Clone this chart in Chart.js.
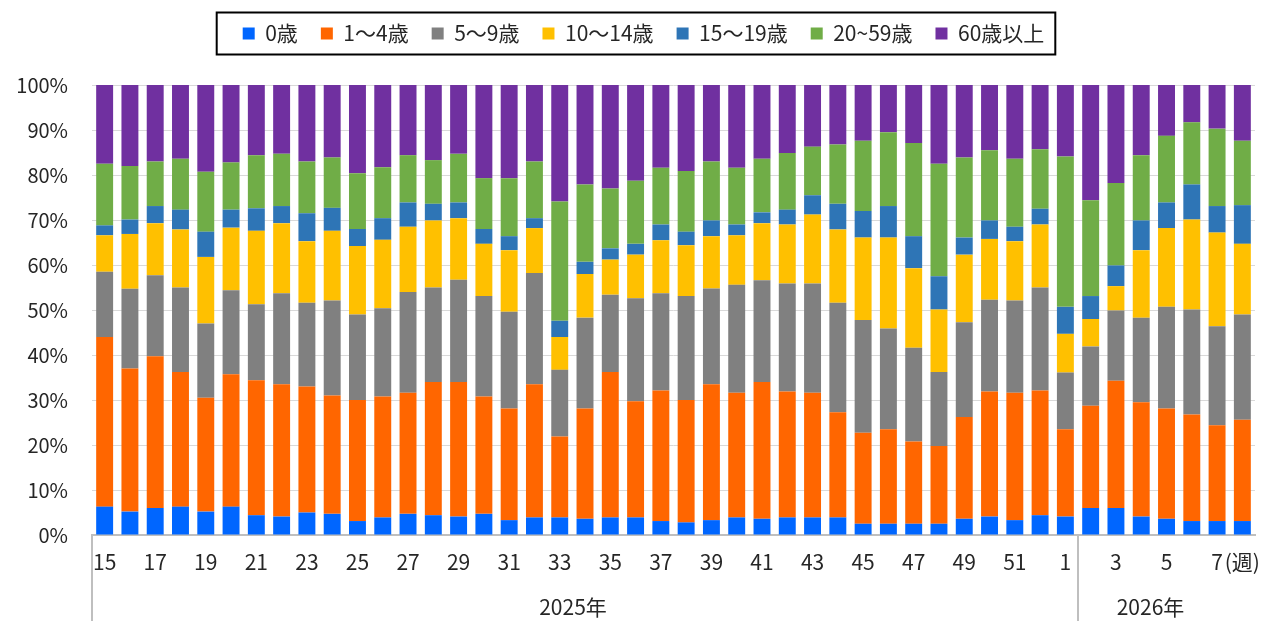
<!DOCTYPE html>
<html lang="ja">

<head>
    <meta charset="UTF-8">
    <script src="https://cdn.jsdelivr.net/npm/chart.js"></script>
    <title>年齢別割合</title>
    <style>
        body { margin: 0; background: #fff; }
        .box { width: 1275px; height: 621px; position: relative; }
    </style>
</head>

<body>
    <div class="box">
        <canvas id="grafico"></canvas>
    </div>

<script>
    // 週 (2025年15週〜2026年8週)
    const semanas = [15, 16, 17, 18, 19, 20, 21, 22, 23, 24, 25, 26, 27, 28, 29, 30, 31, 32, 33, 34,
        35, 36, 37, 38, 39, 40, 41, 42, 43, 44, 45, 46, 47, 48, 49, 50, 51, 52, 1,
        2, 3, 4, 5, 6, 7, 8];
    // 2025年のグループは週1まで（39本）、残りは2026年
    const anos = ['2025年', '2026年'];
    const qtdAno1 = 39;

    const idade0 = [6.3, 5.2, 6.0, 6.3, 5.2, 6.3, 4.4, 4.1, 5.0, 4.7, 3.1, 3.9, 4.7, 4.4, 4.1, 4.7, 3.3, 3.9, 3.9, 3.6,
        3.9, 3.9, 3.1, 2.8, 3.3, 3.9, 3.6, 3.9, 3.9, 3.9, 2.5, 2.5, 2.5, 2.5, 3.6, 4.1, 3.3, 4.4, 4.1,
        6.0, 6.0, 4.1, 3.6, 3.1, 3.1, 3.1];
    const idade1a4 = [37.7, 31.8, 33.7, 29.9, 25.3, 29.4, 30.0, 29.4, 28.0, 26.3, 26.9, 26.9, 26.9, 29.6, 29.9, 26.1, 24.8, 29.6, 18.0, 24.5,
        32.3, 25.8, 29.0, 27.2, 30.2, 27.7, 30.4, 28.0, 27.7, 23.4, 20.2, 21.0, 18.3, 17.3, 22.6, 27.8, 28.3, 27.7, 19.4,
        22.7, 28.3, 25.4, 24.5, 23.7, 21.3, 22.5];
    const idade5a9 = [14.5, 17.7, 18.0, 18.8, 16.5, 18.7, 16.9, 20.2, 18.6, 21.1, 19.0, 19.6, 22.4, 21.0, 22.7, 22.3, 21.5, 24.7, 14.8, 20.2,
        17.2, 22.9, 21.6, 23.1, 21.3, 24.0, 22.6, 24.0, 24.3, 24.3, 25.1, 22.4, 20.8, 16.4, 21.1, 20.4, 20.5, 22.9, 12.6,
        13.2, 15.6, 18.8, 22.6, 23.3, 22.0, 23.4];
    const idade10a14 = [8.1, 12.2, 11.6, 12.9, 14.8, 13.9, 16.3, 15.6, 13.7, 15.5, 15.2, 15.2, 14.5, 14.9, 13.7, 11.6, 13.7, 10.0, 7.3, 9.7,
        7.8, 9.7, 11.8, 11.3, 11.6, 11.0, 12.7, 13.1, 15.3, 16.3, 18.3, 20.2, 17.7, 13.9, 15.0, 13.5, 13.2, 14.0, 8.6,
        6.1, 5.4, 15.0, 17.5, 20.0, 20.8, 15.7];
    const idade15a19 = [2.2, 3.2, 3.8, 4.4, 5.6, 4.0, 5.0, 3.8, 6.2, 5.1, 3.8, 4.8, 5.4, 3.7, 3.5, 3.3, 3.1, 2.2, 3.6, 2.7,
        2.5, 2.4, 3.5, 3.0, 3.5, 2.4, 2.4, 3.3, 4.3, 5.7, 5.9, 7.0, 7.1, 7.4, 3.8, 4.1, 3.2, 3.5, 6.0,
        5.1, 4.6, 6.6, 5.7, 7.8, 5.9, 8.6];
    const idade20a59 = [13.7, 11.9, 9.9, 11.3, 13.3, 10.5, 11.8, 11.6, 11.5, 11.2, 12.4, 11.3, 10.5, 9.7, 10.8, 11.3, 12.9, 12.6, 26.5, 17.2,
        13.3, 14.0, 12.6, 13.5, 13.1, 12.6, 11.9, 12.6, 10.8, 13.2, 15.6, 16.4, 20.7, 25.0, 17.8, 15.6, 15.1, 13.2, 33.4,
        21.3, 18.3, 14.5, 14.8, 13.8, 17.2, 14.3];
    const idade60mais = [17.5, 18.0, 17.0, 16.4, 19.3, 17.2, 15.6, 15.3, 17.0, 16.1, 19.6, 18.3, 15.6, 16.7, 15.3, 20.7, 20.7, 17.0, 25.9, 22.1,
        23.0, 21.3, 18.4, 19.1, 17.0, 18.4, 16.4, 15.1, 13.7, 13.2, 12.4, 10.5, 12.9, 17.5, 16.1, 14.5, 16.4, 14.3, 15.9,
        25.6, 21.8, 15.6, 11.3, 8.3, 9.7, 12.4];

    const rotulos = ['0歳', '1～4歳', '5～9歳', '10～14歳', '15～19歳', '20~59歳', '60歳以上'];
    const cores = ['#0066FF', '#FF6600', '#808080', '#FFC000', '#2E75B6', '#70AD47', '#7030A0'];
    const yTicks = [0, 10, 20, 30, 40, 50, 60, 70, 80, 90, 100];

    const fonte = "'Noto Sans CJK JP', 'Liberation Sans', sans-serif";
    const corTexto = '#262626';
    const deslocLegenda = 16;

    const series = [idade0, idade1a4, idade5a9, idade10a14, idade15a19, idade20a59, idade60mais];
    let datasets = [];
    for (let i = 0; i < series.length; i++) {
        datasets.push({
            label: rotulos[i],
            data: series[i],
            backgroundColor: cores[i],
            borderWidth: 0,
            categoryPercentage: 1,
            barPercentage: 0.67
        });
    }

    // altura fixa da legenda + moldura preta
    const legendaBox = {
        id: 'legendaBox',
        beforeInit(chart) {
            const fitOrig = chart.legend.fit;
            chart.legend.fit = function () {
                fitOrig.call(this);
                this.height = 85;
            };
        },
        afterUpdate(chart) {
            const lg = chart.legend;
            lg.left += deslocLegenda;
            lg.right += deslocLegenda;
            (lg.legendHitBoxes || []).forEach(h => { h.left += deslocLegenda; });
        },
        afterDraw(chart) {
            const hb = chart.legend.legendHitBoxes;
            if (!hb || !hb.length) return;
            const ctx = chart.ctx;
            let esq = hb[0].left, dir = 0;
            hb.forEach(h => { dir = Math.max(dir, h.left + h.width); });
            const cy = hb[0].top + hb[0].height / 2;
            ctx.save();
            ctx.strokeStyle = '#000';
            ctx.lineWidth = 2;
            ctx.strokeRect(esq - 26, cy - 21, (dir - esq) + 37, 42);
            ctx.restore();
        }
    };

    // linhas de grupo e rótulos de ano
    const grupoAnos = {
        id: 'grupoAnos',
        afterDraw(chart) {
            const ctx = chart.ctx;
            const x = chart.scales.x;
            const area = chart.chartArea;
            const sep = (x.getPixelForValue(qtdAno1 - 1) + x.getPixelForValue(qtdAno1)) / 2;
            ctx.save();
            ctx.strokeStyle = '#bfbfbf';
            ctx.lineWidth = 2;
            [area.left, sep].forEach(px => {
                ctx.beginPath();
                ctx.moveTo(px, area.bottom);
                ctx.lineTo(px, chart.height);
                ctx.stroke();
            });
            ctx.fillStyle = corTexto;
            ctx.font = '21px ' + fonte;
            ctx.textAlign = 'center';
            ctx.textBaseline = 'middle';
            ctx.fillText(anos[0], (area.left + sep) / 2 - 12, 607);
            ctx.fillText(anos[1], (sep + area.right) / 2 - 16, 607);
            ctx.restore();
        }
    };

    const config = {
        type: 'bar',
        data: { labels: semanas, datasets: datasets },
        options: {
            responsive: true,
            maintainAspectRatio: false,
            animation: false,
            layout: { padding: { top: 0, right: 20, bottom: 0, left: 0 } },
            plugins: {
                tooltip: { enabled: false },
                legend: {
                    position: 'top',
                    labels: {
                        boxWidth: 12,
                        boxHeight: 12,
                        padding: 23,
                        color: corTexto,
                        font: { family: fonte, size: 21 }
                    }
                }
            },
            scales: {
                x: {
                    stacked: true,
                    grid: { display: false, drawTicks: false },
                    border: { color: '#bfbfbf', width: 2 },
                    afterFit(scale) { scale.height = 86; },
                    ticks: {
                        autoSkip: false,
                        maxRotation: 0,
                        padding: 14,
                        color: corTexto,
                        font: { family: fonte, size: 21 },
                        callback: function (v, i) {
                            if (i === semanas.length - 1) return '(週)';
                            return i % 2 === 0 ? semanas[i] : '';
                        }
                    }
                },
                y: {
                    stacked: true,
                    min: 0,
                    max: 100,
                    grid: { color: '#d9d9d9', drawTicks: false },
                    border: { display: false },
                    afterFit(scale) { scale.width = 92; },
                    afterBuildTicks(scale) { scale.ticks = yTicks.map(v => ({ value: v })); },
                    ticks: {
                        padding: 24,
                        color: corTexto,
                        font: { family: fonte, size: 20 },
                        callback: v => v + '%'
                    }
                }
            }
        },
        plugins: [legendaBox, grupoAnos]
    };

    new Chart(document.getElementById('grafico').getContext('2d'), config);
</script>
</body>

</html>
